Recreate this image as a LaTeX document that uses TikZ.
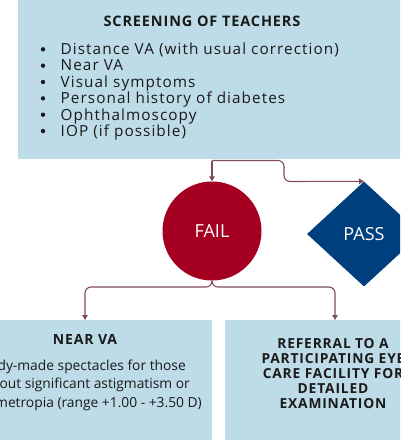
\documentclass[tikz,border=0pt]{standalone}
\usepackage{fontspec}
\setmainfont{Open Sans}
\newfontfamily\spacedbold[LetterSpace=6,BoldFont={Open Sans Bold}]{Open Sans}
\usetikzlibrary{shapes.geometric,arrows.meta}
\definecolor{boxblue}{HTML}{BEDCE8}
\definecolor{failred}{HTML}{A50021}
\definecolor{passblue}{HTML}{003F7D}
\definecolor{conncol}{HTML}{7D4C5B}
\definecolor{txt}{HTML}{1A1A1A}
\tikzset{
  panel/.style={fill=boxblue, draw=none, inner sep=0pt},
  conn/.style={draw=conncol, line width=1.1pt, rounded corners=6pt, -{Triangle[width=5.5pt,length=5pt]}},
  bullettext/.style={anchor=base west, inner sep=0pt, text=txt, font=\fontsize{15.3}{16}\selectfont},
  bulletdot/.style={circle, fill=txt, inner sep=0pt, minimum size=4.4pt},
  bodyline/.style={anchor=base east, inner sep=0pt, text=txt, font=\fontsize{13.8}{18}\selectfont},
}
\begin{document}
\begin{tikzpicture}[x=1pt,y=-1pt]
\useasboundingbox (0,0) rectangle (400,440);
\clip (0,0) rectangle (400,440);
% panels
\node[panel, anchor=north west, minimum width=420pt, minimum height=170pt] (top) at (18,-11) {};
\node[panel, anchor=north, minimum width=254pt, minimum height=120pt] (near) at (85,320) {};
\node[panel, anchor=north, minimum width=220pt, minimum height=120pt] (ref) at (335,320) {};
% top texts
\node[anchor=center, inner sep=0pt, text=txt, font=\spacedbold\bfseries\fontsize{14.5}{16}\selectfont] (title) at (202,21.5) {SCREENING OF TEACHERS};
\foreach \i/\t in {1/{Distance VA (with usual correction)},2/{Near VA},3/{Visual symptoms},4/{Personal history of diabetes},5/{Ophthalmoscopy},6/{IOP (if possible)}}{
  \node[bulletdot] (b\i) at (43,{49.3+(\i-1)*16.35}) {};
  \node[bullettext] (t\i) at (60.5,{49.3+(\i-1)*16.35+5.3}) {\addfontfeature{LetterSpace=7}\t};
}
% decision shapes
\node[circle, fill=failred, minimum size=99pt, inner sep=0pt, text=white, font=\fontsize{18}{20}\selectfont] (fail) at (212,231) {FAIL};
\node[diamond, fill=passblue, minimum width=114pt, minimum height=105pt, inner sep=0pt, text=white, font=\fontsize{18}{20}\selectfont] (pass) at (364,234) {PASS};
% connectors
\coordinate (s1) at (212,160.5);
\coordinate (s1r) at (284,160.5);
\coordinate (s1d) at (284,181.5);
\draw[conn] (s1) -- (fail.north);
\draw[conn] (s1) -- (s1r) -- (s1d) -- (pass.north);
\coordinate (s2) at (212,287);
\draw[conn] (fail.south) -- (s2) -| (near.north);
\draw[conn] (fail.south) -- (s2) -| (ref.north);
% bottom texts
\node[anchor=center, inner sep=0pt, text=txt, font=\spacedbold\bfseries\fontsize{14}{16}\selectfont] (neartitle) at (85,339) {NEAR VA};
\node[bodyline] (l1) at (186,370.5) {Ready-made spectacles for those};
\node[bodyline] (l2) at (190,388.5) {without significant astigmatism or};
\node[bodyline] (l3) at (202,407) {anisometropia (range +1.00 - +3.50 D)};
\node[anchor=north, inner sep=0pt, align=center, text=txt, font=\spacedbold\bfseries\fontsize{13.8}{15}\selectfont] (reftext) at (333,338) {REFERRAL TO A\\PARTICIPATING EYE\\CARE FACILITY FOR\\DETAILED\\EXAMINATION};
\end{tikzpicture}
\end{document}
